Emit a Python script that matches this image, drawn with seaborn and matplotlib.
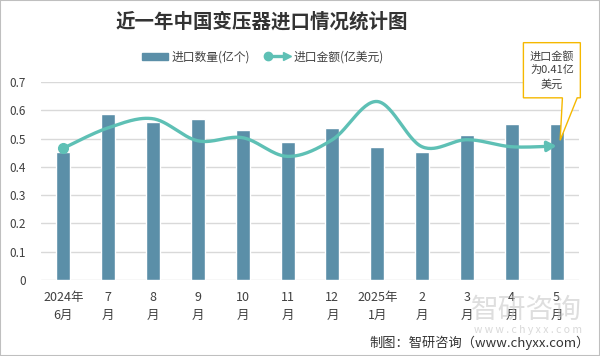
import numpy as np
import pandas as pd
import matplotlib
matplotlib.use("Agg")
import matplotlib.pyplot as plt
import seaborn as sns
from matplotlib.lines import Line2D
from matplotlib.patches import Patch, Polygon, Rectangle
from matplotlib.legend_handler import HandlerBase

# Data
months = ["2024年\n6月", "7\n月", "8\n月", "9\n月", "10\n月", "11\n月",
          "12\n月", "2025年\n1月", "2\n月", "3\n月", "4\n月", "5\n月"]
quantity = [0.453, 0.588, 0.559, 0.570, 0.531, 0.489,
            0.538, 0.471, 0.453, 0.513, 0.552, 0.552]   # 进口数量(亿个)
amount = [0.466, 0.538, 0.570, 0.492, 0.503, 0.437,
          0.496, 0.631, 0.471, 0.496, 0.471, 0.474]     # 进口金额(亿美元)
yticks = [0, 0.1, 0.2, 0.3, 0.4, 0.5, 0.6, 0.7]
ytick_labels = ["0", "0.1", "0.2", "0.3", "0.4", "0.5", "0.6", "0.7"]

BAR = "#5B8FA8"
LINE = "#5EC0B5"
TXT = "#404040"

sns.set_theme(style="white")
plt.rcParams['font.family'] = ['Noto Sans CJK SC', 'DejaVu Sans']
plt.rcParams['axes.unicode_minus'] = False

df = pd.DataFrame({"month": months, "quantity": quantity, "amount": amount})

fig = plt.figure(figsize=(6, 3.56), dpi=100)
ax = fig.add_axes([0.0683, 0.2135, 0.8967, 0.5562])

sns.barplot(data=df, x="month", y="quantity", color=BAR, saturation=1,
            width=0.31, ax=ax, zorder=2)


# smooth curve through the points (Catmull-Rom, like Excel's smoothed line)
def smooth(xs, ys, n=30):
    xs = np.asarray(xs, float)
    ys = np.asarray(ys, float)
    px = np.concatenate([[xs[0]], xs, [xs[-1]]])
    py = np.concatenate([[ys[0]], ys, [ys[-1]]])
    outx, outy = [], []
    for i in range(1, len(px) - 2):
        t = np.linspace(0, 1, n, endpoint=False)
        h00 = 2 * t**3 - 3 * t**2 + 1
        h10 = t**3 - 2 * t**2 + t
        h01 = -2 * t**3 + 3 * t**2
        h11 = t**3 - t**2
        mx0 = (px[i + 1] - px[i - 1]) / 2
        mx1 = (px[i + 2] - px[i]) / 2
        my0 = (py[i + 1] - py[i - 1]) / 2
        my1 = (py[i + 2] - py[i]) / 2
        outx.append(h00 * px[i] + h10 * mx0 + h01 * px[i + 1] + h11 * mx1)
        outy.append(h00 * py[i] + h10 * my0 + h01 * py[i + 1] + h11 * my1)
    outx.append([xs[-1]])
    outy.append([ys[-1]])
    return np.concatenate(outx), np.concatenate(outy)


xpos = np.arange(len(months))
sx, sy = smooth(xpos, amount)
ax.plot(sx[:-8], sy[:-8], color=LINE, lw=2.4, zorder=3, solid_capstyle="butt")
ax.annotate("", xy=(sx[-1], sy[-1]), xytext=(sx[-10], sy[-10]),
            arrowprops=dict(arrowstyle="-|>,head_length=0.45,head_width=0.25",
                            color=LINE, lw=2.4, shrinkA=0, shrinkB=0), zorder=3)
ax.plot([xpos[0]], [amount[0]], "o", color=LINE, ms=7, zorder=4)

ax.set_xlim(-0.5, len(months) - 0.5)
ax.set_ylim(0, 0.7)
ax.set_yticks(yticks)
ax.set_yticklabels(ytick_labels)
ax.yaxis.grid(True, color="#D9D9D9", lw=1)
ax.set_axisbelow(True)
for s in ax.spines.values():
    s.set_visible(False)
ax.set_xlabel("")
ax.set_ylabel("")
ax.tick_params(axis="y", length=0, pad=11, labelsize=8.5, labelcolor=TXT)
ax.tick_params(axis="x", length=0, pad=8, labelsize=9, labelcolor=TXT)
for lab in ax.get_xticklabels():
    lab.set_linespacing(1.5)


# legend: line with dot at left and arrow at right
class DotArrowHandler(HandlerBase):
    def create_artists(self, legend, orig, xd, yd, w, h, fontsize, trans):
        y = h / 2 - yd
        ln = Line2D([-xd + 3, -xd + w - 4], [y, y], color=LINE, lw=2.4, transform=trans)
        dot = Line2D([-xd + 3], [y], marker="o", color=LINE, ms=6, transform=trans)
        tip = Line2D([-xd + w - 2], [y], marker=">", color=LINE, ms=6, transform=trans)
        return [ln, dot, tip]


handles = [Patch(color=BAR), Line2D([0], [0], color=LINE)]
fig.legend(handles, ["进口数量(亿个)", "进口金额(亿美元)"],
           handler_map={handles[1]: DotArrowHandler()},
           loc="center", bbox_to_anchor=(263 / 600, 1 - 57 / 356), ncol=2,
           frameon=False, fontsize=8.5, handlelength=2.2, handleheight=0.6,
           columnspacing=1.2, handletextpad=0.3, labelcolor=TXT)

fig.text(262 / 600, 1 - 22 / 356, "近一年中国变压器进口情况统计图", ha="center", va="center",
         fontsize=14, fontweight="bold", color="#333333")

# callout box for the last amount value
last = len(months) - 1
tipx, tipy = last + 0.08, amount[-1] + 0.02
bx0, bx1, by0, by1 = last - 0.74, last + 0.53, 0.644, 0.839
callout = Polygon([(bx0, by1), (bx1, by1), (bx1, by0), (last + 0.46, by0), (tipx, tipy),
                   (last + 0.13, by0), (bx0, by0)], closed=True, facecolor="white",
                  edgecolor="#F5B800", lw=1, clip_on=False, zorder=5)
ax.add_patch(callout)
ax.text((bx0 + bx1) / 2, (by0 + by1) / 2, "进口金额\n为0.41亿\n美元", ha="center", va="center",
        fontsize=8, color=TXT, linespacing=1.45, zorder=6, clip_on=False)

# watermark and source
fig.text(582 / 600, 1 - 310 / 356, "智研咨询", ha="right", va="center", fontsize=20,
         color="#C4C4C4", alpha=0.55)
fig.text(582 / 600, 1 - 330 / 356, "w w w . c h y x x . c o m", ha="right", va="center",
         fontsize=7.5, color="#C4C4C4", alpha=0.65)
fig.text(590 / 600, 1 - 343 / 356, "制图：智研咨询（www.chyxx.com）", ha="right", va="center",
         fontsize=9.5, color="#333333")

fig.patches.append(Rectangle((0, 0), 1, 1, transform=fig.transFigure, fill=False,
                             edgecolor="#BFBFBF", lw=1.5))

fig.savefig("out.png", dpi=100)
